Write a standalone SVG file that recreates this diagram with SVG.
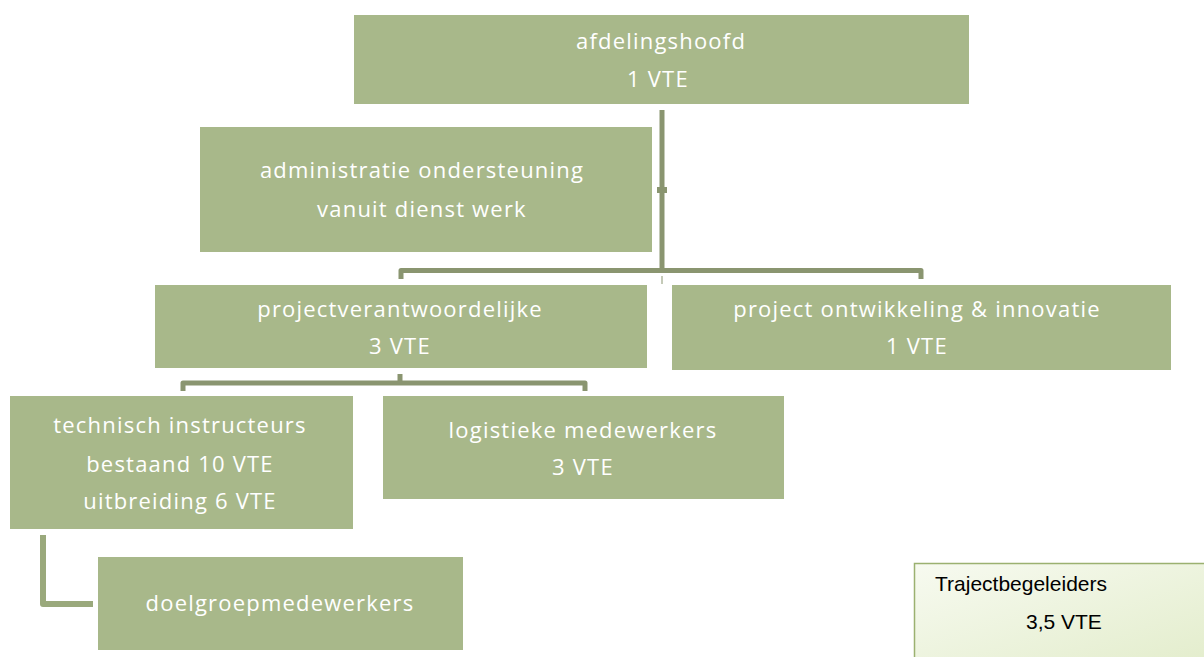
<svg xmlns="http://www.w3.org/2000/svg" width="1204" height="657" viewBox="0 0 1204 657">
<defs>
<linearGradient id="lg" x1="0" y1="0" x2="1" y2="1">
<stop offset="0" stop-color="#F7FAF0"/>
<stop offset="1" stop-color="#E3EDCC"/>
</linearGradient>
<style>
.box{fill:#A8B88A;}
.t{font-family:"Open Sans","Liberation Sans",sans-serif;font-size:22px;letter-spacing:1.2px;fill:#FFFFFF;text-anchor:middle;}
.c{fill:none;stroke:#8A9570;stroke-width:5;stroke-linejoin:round;}
.c2{fill:none;stroke:#9AA97C;stroke-width:6;stroke-linejoin:round;}
.tb{font-family:"Liberation Sans",Arial,sans-serif;font-size:21px;fill:#000000;}
</style>
</defs>
<rect width="1204" height="657" fill="#FFFFFF"/>
<g id="connectors">
<path class="c" d="M662,110 V270"/>
<rect x="657" y="187" width="10" height="6" fill="#8A9570"/>
<path class="c" d="M401,279 V270.5 H921 V279"/>
<path d="M662,276 V284" stroke="#8A9570" stroke-width="1" fill="none"/>
<path class="c" d="M183,391 V383 H585 V391"/>
<path class="c" d="M400,374 V382"/>
<path class="c2" d="M43,535 V604 H93"/>
</g>
<g id="afdelingshoofd">
<rect class="box" x="354" y="15" width="615" height="89"/>
<text class="t" x="661" y="48.5">afdelingshoofd</text>
<text class="t" x="658" y="87">1 VTE</text>
</g>
<g id="administratie">
<rect class="box" x="200" y="127" width="452" height="125"/>
<text class="t" x="422" y="178">administratie ondersteuning</text>
<text class="t" x="422" y="217">vanuit dienst werk</text>
</g>
<g id="projectverantwoordelijke">
<rect class="box" x="155" y="285" width="492" height="83"/>
<text class="t" x="400" y="317">projectverantwoordelijke</text>
<text class="t" x="400" y="354">3 VTE</text>
</g>
<g id="projectontwikkeling">
<rect class="box" x="672" y="285" width="499" height="85"/>
<text class="t" x="917" y="317">project ontwikkeling &amp; innovatie</text>
<text class="t" x="917" y="354">1 VTE</text>
</g>
<g id="technisch">
<rect class="box" x="10" y="396" width="343" height="133"/>
<text class="t" x="180" y="433">technisch instructeurs</text>
<text class="t" x="180" y="472">bestaand 10 VTE</text>
<text class="t" x="180" y="509">uitbreiding 6 VTE</text>
</g>
<g id="logistieke">
<rect class="box" x="383" y="396" width="401" height="103"/>
<text class="t" x="583" y="438">logistieke medewerkers</text>
<text class="t" x="583" y="475">3 VTE</text>
</g>
<g id="doelgroep">
<rect class="box" x="98" y="557" width="365" height="93"/>
<text class="t" x="280" y="611">doelgroepmedewerkers</text>
</g>
<g id="trajectbegeleiders">
<rect x="914.5" y="563.5" width="300" height="100" fill="url(#lg)" stroke="#9BB170" stroke-width="1.5"/>
<text class="tb" x="935" y="591">Trajectbegeleiders</text>
<text class="tb" x="1026" y="629">3,5 VTE</text>
</g>
</svg>
